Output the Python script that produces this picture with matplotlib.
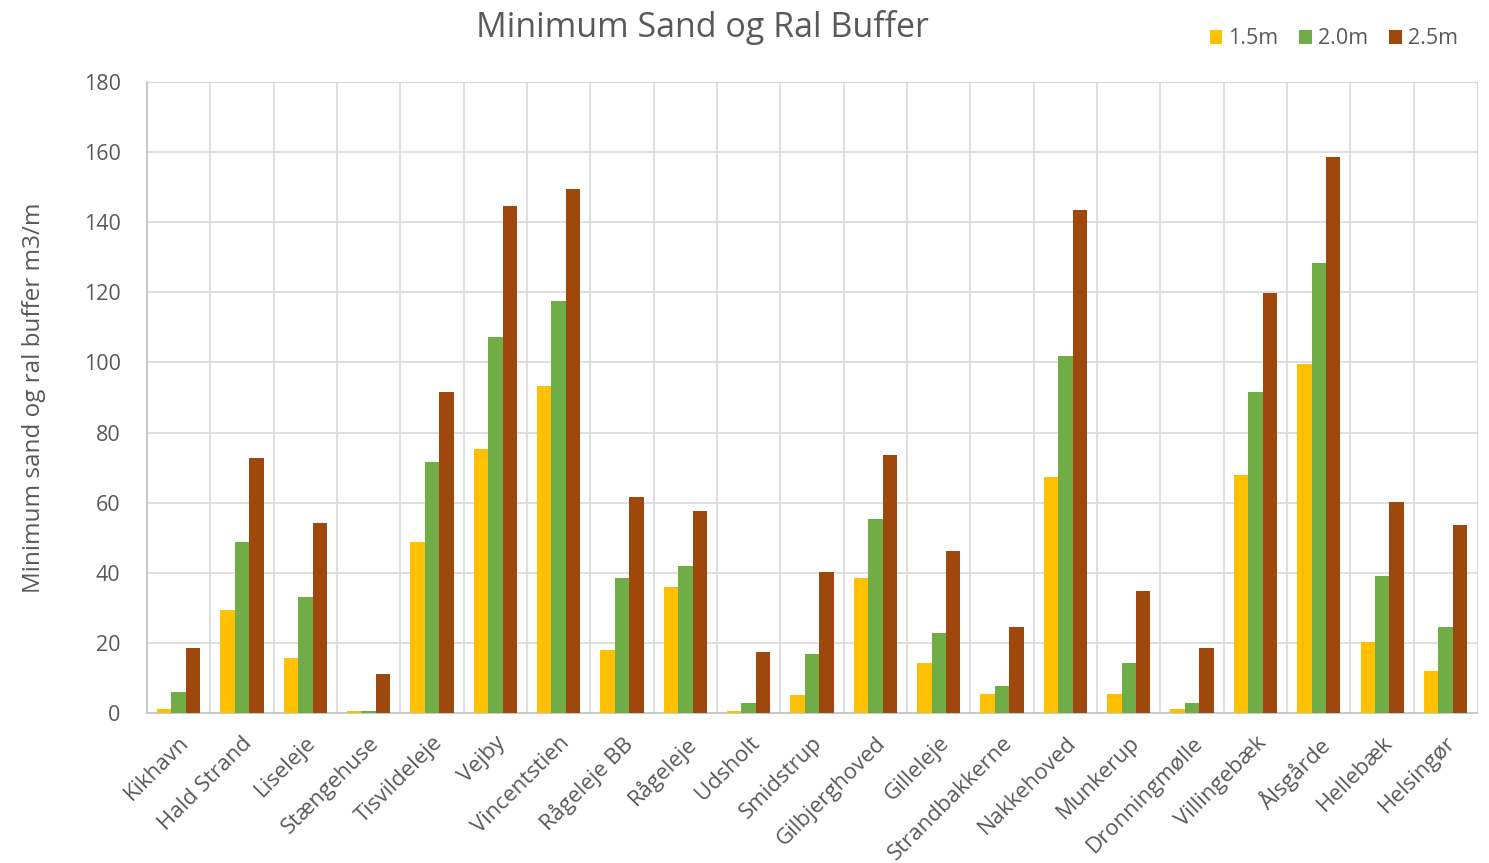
import matplotlib
matplotlib.use('Agg')
import matplotlib.pyplot as plt
import numpy as np

plt.rcParams['font.family'] = ['Open Sans', 'DejaVu Sans']

# data
steder = ['Kikhavn', 'Hald Strand', 'Liseleje', 'Stængehuse', 'Tisvildeleje',
          'Vejby', 'Vincentstien', 'Rågeleje BB', 'Rågeleje', 'Udsholt',
          'Smidstrup', 'Gilbjerghoved', 'Gilleleje', 'Strandbakkerne',
          'Nakkehoved', 'Munkerup', 'Dronningmølle', 'Villingebæk',
          'Ålsgårde', 'Hellebæk', 'Helsingør']
buf_15 = [1.1, 29.4, 15.7, 0.6, 48.8, 75.3, 93.3, 18.0, 36.0, 0.6, 5.1,
          38.5, 14.3, 5.4, 67.3, 5.4, 1.1, 67.9, 99.5, 20.3, 12.0]
buf_20 = [6.0, 48.8, 33.1, 0.6, 71.6, 107.2, 117.5, 38.5, 42.0, 2.9, 16.8,
          55.3, 22.8, 7.7, 101.8, 14.3, 2.9, 91.6, 128.3, 39.1, 24.5]
buf_25 = [18.5, 72.7, 54.2, 11.1, 91.6, 144.6, 149.5, 61.6, 57.6, 17.4, 40.2,
          73.6, 46.2, 24.5, 143.5, 34.8, 18.5, 119.8, 158.6, 60.2, 53.6]
serier = ['1.5m', '2.0m', '2.5m']
farver = ['#FFC000', '#70AD47', '#9E480E']

tekst = '#595959'
gitter = '#D9D9D9'

fig = plt.figure(figsize=(14.89, 8.63), dpi=100)
ax = fig.add_axes([0.0987, 0.1738, 0.8933, 0.7312])

x = np.arange(len(steder))
w = 0.227
for i, (vals, navn, c) in enumerate(zip([buf_15, buf_20, buf_25], serier, farver)):
    ax.bar(x + (i - 1) * w, vals, width=w, color=c, label=navn, zorder=3)

ax.set_xlim(-0.5, len(steder) - 0.5)
ax.set_ylim(0, 180)
ax.set_yticks(np.arange(0, 181, 20))

# gitterlinjer: vandret ved hver 20, lodret mellem kategorier
for yv in np.arange(20, 181, 20):
    ax.axhline(yv, color=gitter, linewidth=1.2, zorder=1)
for xv in np.arange(0.5, len(steder) - 0.5, 1):
    ax.axvline(xv, color=gitter, linewidth=1.2, zorder=1)

for s in ['top', 'right']:
    ax.spines[s].set_color(gitter)
for s in ['left', 'bottom']:
    ax.spines[s].set_color('#BFBFBF')
    ax.spines[s].set_linewidth(1.2)

ax.set_xticks(x)
ax.set_xticklabels(steder, rotation=45, ha='right', rotation_mode='anchor',
                   fontsize=16, color=tekst)
ax.tick_params(axis='x', length=0, pad=14)
ax.tick_params(axis='y', length=0, pad=19, labelsize=15.5, labelcolor=tekst)

ax.set_ylabel('Minimum sand og ral buffer m3/m', fontsize=17.5, color=tekst,
              labelpad=27)

fig.text(0.472, 0.968, 'Minimum Sand og Ral Buffer', ha='center', va='center',
         fontsize=24.5, color=tekst)

fig.legend(loc='center right', bbox_to_anchor=(0.992, 0.955), ncol=3,
           frameon=False, fontsize=15.5, handlelength=0.6, handleheight=0.6,
           handletextpad=0.25, columnspacing=1.0, labelcolor=tekst)

fig.savefig('out.png', dpi=100)
